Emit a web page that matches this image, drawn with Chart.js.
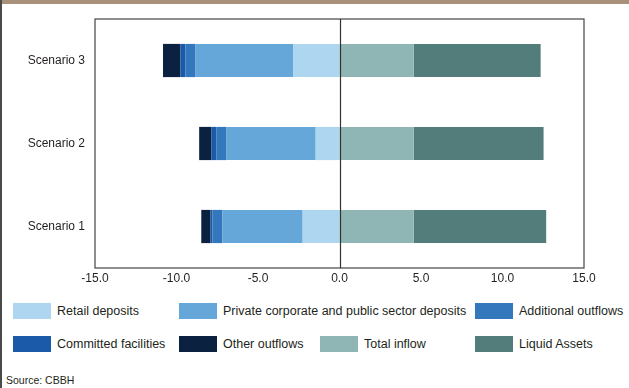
<!DOCTYPE html>
<html>
<head>
<meta charset="utf-8">
<script src="https://cdn.jsdelivr.net/npm/chart.js@4/dist/chart.umd.min.js"></script>
<style>
  html,body{margin:0;padding:0;background:#fff;}
  body{width:629px;height:388px;position:relative;overflow:hidden;font-family:"Liberation Sans",Arial,sans-serif;color:#231f20;}
  #topbar{position:absolute;left:0;top:0;width:629px;height:4px;background:#a8917a;}
  #leftline{position:absolute;left:0;top:0;width:2px;height:388px;background:#4a4a4a;}
  #wrap{position:absolute;left:0;top:0;width:629px;height:290px;}
  .lg{position:absolute;display:flex;align-items:center;font-size:12.5px;white-space:nowrap;}
  .lg span.b{display:inline-block;width:38px;height:16px;margin-right:6px;}
  #src{position:absolute;left:6px;top:374px;font-size:10.5px;}
</style>
</head>
<body>
<div id="topbar"></div>
<div id="leftline"></div>
<div id="wrap"><canvas id="c" width="629" height="290"></canvas></div>
<div id="legend"></div>
<div id="src">Source: CBBH</div>
<script>
const categories = ['Scenario 3','Scenario 2','Scenario 1'];
const seriesNames = ['Retail deposits','Private corporate and public sector deposits','Additional outflows','Committed facilities','Other outflows','Total inflow','Liquid Assets'];
const retailDeposits = [-2.83, -1.46, -2.26];
const privateCorporateDeposits = [-6.0, -5.47, -4.92];
const additionalOutflows = [-0.63, -0.63, -0.61];
const committedFacilities = [-0.31, -0.29, -0.12];
const otherOutflows = [-1.06, -0.76, -0.57];
const totalInflow = [4.55, 4.55, 4.55];
const liquidAssets = [7.79, 7.97, 8.13];
const xTicks = [-15, -10, -5, 0, 5, 10, 15];

const colors = ['#aed6f0','#66a7da','#3377bd','#1b5aa8','#0a2240','#8fb5b4','#527d7b'];
const seriesData = [retailDeposits, privateCorporateDeposits, additionalOutflows, committedFacilities, otherOutflows, totalInflow, liquidAssets];

const frame = {
  id:'frame',
  afterDatasetsDraw(chart){
    const {ctx, chartArea:a, scales:{x}} = chart;
    ctx.save();
    ctx.strokeStyle = '#444';
    ctx.lineWidth = 1.2;
    ctx.strokeRect(a.left, a.top, a.right-a.left, a.bottom-a.top);
    const z = Math.round(x.getPixelForValue(0)) + 0.5;
    ctx.beginPath();
    ctx.moveTo(z, a.top); ctx.lineTo(z, a.bottom);
    ctx.strokeStyle = '#333';
    ctx.lineWidth = 1.2;
    ctx.stroke();
    ctx.restore();
  }
};

const chart = new Chart(document.getElementById('c'), {
  type:'bar',
  data:{
    labels: categories,
    datasets: seriesNames.map((n,i)=>({
      label:n, data:seriesData[i], backgroundColor:colors[i], borderWidth:0,
      categoryPercentage:1.0, barPercentage:0.4
    }))
  },
  options:{
    indexAxis:'y',
    responsive:false,
    animation:false,
    layout:{padding:{top:19,right:45,left:0,bottom:0}},
    plugins:{legend:{display:false},tooltip:{enabled:false}},
    scales:{
      x:{
        stacked:true, min:-15, max:15,
        afterBuildTicks(s){ s.ticks = xTicks.map(v=>({value:v})); },
        grid:{display:false, drawTicks:false},
        border:{display:false},
        ticks:{padding:3, color:'#231f20', font:{family:'"Liberation Sans", Arial, sans-serif', size:12}, callback:v=>Number(v).toFixed(1), maxRotation:0, autoSkip:false},
        afterFit(s){ s.height = 22; }
      },
      y:{
        stacked:true,
        grid:{display:false, drawTicks:false},
        border:{display:false},
        ticks:{padding:10, color:'#231f20', font:{family:'"Liberation Sans", Arial, sans-serif', size:12}},
        afterFit(s){ s.width = 95; }
      }
    }
  },
  plugins:[frame]
});

// HTML legend built from the chart datasets
const legendPos = [
  [13,311],[179,311],[475,311],
  [13,344],[179,344],[320,344],[475,344]
];
const lg = document.getElementById('legend');
chart.data.datasets.forEach((ds,i)=>{
  const d = document.createElement('div');
  d.className='lg';
  d.style.left = legendPos[i][0]+'px';
  d.style.top = (legendPos[i][1]-8)+'px';
  d.style.height='16px';
  const b = document.createElement('span'); b.className='b'; b.style.background = ds.backgroundColor;
  const t = document.createElement('span'); t.textContent = ds.label;
  d.appendChild(b); d.appendChild(t);
  lg.appendChild(d);
});
</script>
</body>
</html>
